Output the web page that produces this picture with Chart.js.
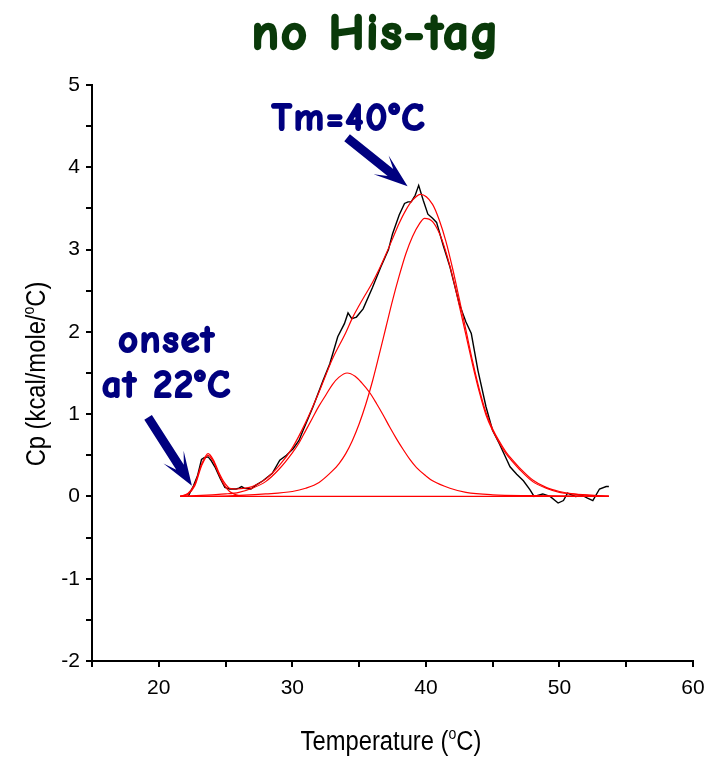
<!DOCTYPE html>
<html>
<head>
<meta charset="utf-8">
<script src="https://cdn.jsdelivr.net/npm/chart.js@4"></script>
<style>
  html, body { margin: 0; padding: 0; background: #fff; }
  #wrap { width: 717px; height: 757px; }
</style>
</head>
<body>
<div id="wrap"><canvas id="dsc" width="717" height="757"></canvas></div>
<script>
// measured DSC trace (black)
const expT = [22.2, 22.6, 22.9, 23.2, 23.4, 23.7, 23.9, 24.2, 24.6, 24.95, 25.3, 25.8, 26.0, 26.2, 26.4, 26.9,
  27.3, 27.8, 28.5, 29.06, 29.56, 30.06, 30.5, 30.8, 31.55, 32.3, 32.8, 33.4, 33.9, 34.17, 34.45, 34.8,
  35.3, 36.0, 36.6, 37.2, 37.5, 38.0, 38.4, 38.66, 38.9, 39.2, 39.46, 39.8, 40.15, 40.5, 40.8, 41.3,
  41.8, 42.5, 43.0, 43.4, 43.9, 44.5, 45.0, 45.5, 45.9, 46.3, 46.8, 47.3, 47.8, 48.1, 48.75, 49.3,
  49.9, 50.3, 50.6, 51.2, 51.75, 52.1, 52.5, 53.0, 53.5, 53.7];
const expCp = [0.0, 0.13, 0.25, 0.45, 0.47, 0.48, 0.44, 0.36, 0.22, 0.11, 0.09, 0.09, 0.1, 0.12, 0.1, 0.09,
  0.14, 0.19, 0.28, 0.44, 0.5, 0.58, 0.68, 0.8, 1.09, 1.41, 1.61, 1.94, 2.1, 2.23, 2.16, 2.18,
  2.28, 2.54, 2.78, 3.0, 3.19, 3.42, 3.56, 3.58, 3.58, 3.66, 3.78, 3.6, 3.43, 3.38, 3.33, 3.05,
  2.79, 2.34, 2.12, 1.98, 1.53, 1.09, 0.8, 0.64, 0.5, 0.36, 0.27, 0.19, 0.08, 0.0, 0.03, 0.0,
  -0.08, -0.05, 0.04, 0.0, 0.01, -0.02, -0.05, 0.09, 0.12, 0.12];

// total fit (red)
const fitT = [21.6, 22.2, 22.7, 23.2, 23.7, 24.1, 24.5, 24.9, 25.3, 25.8, 26.5, 27, 28, 29, 30, 31, 32, 33,
  34, 34.5, 35, 35.5, 36, 36.5, 37, 37.5, 38, 38.5, 39, 39.6, 40.5, 41, 41.5, 42, 42.5, 43, 43.5, 44,
  44.5, 45, 45.5, 46, 46.5, 47, 48, 49, 50, 51, 52, 53.7];
const fitCp = [0, 0.04, 0.15, 0.39, 0.52, 0.44, 0.29, 0.17, 0.1, 0.09, 0.1, 0.12, 0.21, 0.37, 0.59, 0.9, 1.27, 1.67,
  1.99, 2.17, 2.32, 2.46, 2.6, 2.76, 2.94, 3.13, 3.32, 3.48, 3.6, 3.67, 3.55, 3.36, 3.1, 2.77, 2.4, 2.02, 1.64, 1.3,
  1.02, 0.82, 0.67, 0.54, 0.44, 0.35, 0.2, 0.11, 0.06, 0.03, 0.015, 0.005];

// component peaks (red)
const peak1T = [21.6, 22.2, 22.7, 23.2, 23.7, 24.1, 24.5, 24.9, 25.3, 25.8, 26.5];
const peak1Cp = [0, 0.03, 0.13, 0.37, 0.5, 0.42, 0.27, 0.14, 0.06, 0.02, 0];

const peak2T = [21.6, 24, 25, 26, 27, 28, 29, 30, 30.5, 31, 31.5, 32, 32.5, 33, 33.5, 34.1, 34.7, 35.2, 35.8,
  36.3, 36.8, 37.3, 37.8, 38.3, 38.8, 39.3, 40, 40.5, 41.8, 43, 45, 48, 53.7];
const peak2Cp = [0, 0.02, 0.03, 0.05, 0.1, 0.18, 0.33, 0.53, 0.65, 0.8, 0.95, 1.1, 1.23, 1.36, 1.45, 1.5, 1.46, 1.38, 1.26,
  1.13, 0.99, 0.84, 0.7, 0.57, 0.45, 0.35, 0.25, 0.19, 0.1, 0.05, 0.02, 0.01, 0];

const peak3T = [21.6, 25, 28, 30, 31, 32, 33, 33.5, 34, 34.5, 35, 35.5, 36, 36.5, 37, 37.5, 38, 38.5, 39, 39.5, 39.9,
  40.5, 41, 41.5, 42, 42.5, 43, 43.5, 44, 44.5, 45, 45.5, 46, 46.5, 47, 48, 49, 50, 51, 53.7];
const peak3Cp = [0, 0.005, 0.03, 0.06, 0.1, 0.17, 0.31, 0.4, 0.52, 0.68, 0.88, 1.12, 1.4, 1.72, 2.05, 2.38, 2.68, 2.95, 3.16, 3.31, 3.38,
  3.34, 3.2, 2.97, 2.67, 2.32, 1.96, 1.6, 1.27, 0.99, 0.8, 0.65, 0.52, 0.42, 0.33, 0.18, 0.1, 0.05, 0.03, 0];

const baseT = [21.6, 53.7];
const baseCp = [0, 0];

// axis ranges
const xMin = 15, xMax = 60, xStep = 5;
const yMin = -2, yMax = 5, yStep = 0.5;

// annotation arrows in data units: [from, to]
const tmArrow = [[34.1, 4.36], [38.63, 3.77]];
const onsetArrow = [[19.2, 0.96], [22.48, 0.13]];

const NAVY = "#00007f";
const TEXT_FONT = '"Liberation Sans", Arial, sans-serif';
const FUN_FONT = '"Comic Sans MS", "Comic Neue", "DejaVu Sans", sans-serif';

function pts(xs, ys) {
  return xs.map((x, i) => ({ x, y: ys[i] }));
}

function redLine(xs, ys, order) {
  return {
    data: pts(xs, ys),
    borderColor: "#ff0000",
    borderWidth: 1.2,
    pointRadius: 0,
    cubicInterpolationMode: "monotone",
    fill: false,
    order,
  };
}

function drawArrow(ctx, x0, y0, x1, y1) {
  const ang = Math.atan2(y1 - y0, x1 - x0);
  const len = Math.hypot(x1 - x0, y1 - y0);
  const w = 4.5, hl = 34, hw = 12, back = 12;
  ctx.save();
  ctx.translate(x0, y0);
  ctx.rotate(ang);
  ctx.beginPath();
  ctx.moveTo(0, -w);
  ctx.lineTo(len - hl + back, -w);
  ctx.lineTo(len - hl, -hw);
  ctx.lineTo(len, 0);
  ctx.lineTo(len - hl, hw);
  ctx.lineTo(len - hl + back, w);
  ctx.lineTo(0, w);
  ctx.closePath();
  ctx.fillStyle = NAVY;
  ctx.fill();
  ctx.restore();
}

// comic text, thickened with a thin stroke
function boldText(ctx, text, x, y, size, color, weight) {
  ctx.font = `bold ${size}px ${FUN_FONT}`;
  ctx.letterSpacing = "2px";
  ctx.textAlign = "center";
  ctx.textBaseline = "alphabetic";
  ctx.fillStyle = color;
  ctx.strokeStyle = color;
  ctx.lineWidth = weight;
  ctx.lineJoin = "round";
  ctx.strokeText(text, x, y);
  ctx.fillText(text, x, y);
  ctx.letterSpacing = "0px";
}

// text with a small raised "o" for the degree sign, squeezed a little horizontally
function drawSupText(ctx, parts, cx, cy, size, squeeze) {
  const big = `${size}px ${TEXT_FONT}`;
  const small = `${Math.round(size * 0.6)}px ${TEXT_FONT}`;
  let total = 0;
  parts.forEach((p) => {
    ctx.font = p.sup ? small : big;
    total += ctx.measureText(p.t).width;
  });
  ctx.save();
  ctx.translate(cx, cy);
  ctx.scale(squeeze, 1);
  let x = -total / 2;
  ctx.textAlign = "left";
  ctx.textBaseline = "alphabetic";
  parts.forEach((p) => {
    ctx.font = p.sup ? small : big;
    ctx.fillText(p.t, x, p.sup ? -size * 0.42 : 0);
    x += ctx.measureText(p.t).width;
  });
  ctx.restore();
}

const decor = {
  id: "decor",
  afterDraw(chart) {
    const ctx = chart.ctx;
    const sx = chart.scales.x, sy = chart.scales.y;
    ctx.save();

    boldText(ctx, "no His-tag", 376, 49, 50, "#0a3a0a", 2.4);

    boldText(ctx, "Tm=40\u00B0C", 349, 130, 38, NAVY, 2);
    boldText(ctx, "onset", 167, 352, 38, NAVY, 2);
    boldText(ctx, "at 22\u00B0C", 167, 397, 38, NAVY, 2);

    [tmArrow, onsetArrow].forEach(([a, b]) => {
      drawArrow(ctx, sx.getPixelForValue(a[0]), sy.getPixelForValue(a[1]),
        sx.getPixelForValue(b[0]), sy.getPixelForValue(b[1]));
    });

    // axis titles
    ctx.fillStyle = "#000";
    drawSupText(ctx, [{ t: "Temperature (" }, { t: "o", sup: true }, { t: "C)" }], 391, 750, 27, 0.88);

    ctx.save();
    ctx.translate(45, 374);
    ctx.rotate(-Math.PI / 2);
    drawSupText(ctx, [{ t: "Cp (kcal/mole/" }, { t: "o", sup: true }, { t: "C)" }], 0, 0, 27, 0.88);
    ctx.restore();

    ctx.restore();
  },
};

const axisGrid = {
  drawOnChartArea: false,
  drawTicks: true,
  tickLength: 6,
  color: "#000",
  lineWidth: 2,
};

new Chart(document.getElementById("dsc").getContext("2d"), {
  type: "line",
  data: {
    datasets: [
      redLine(fitT, fitCp, 1),
      redLine(peak1T, peak1Cp, 2),
      redLine(peak2T, peak2Cp, 3),
      redLine(peak3T, peak3Cp, 4),
      redLine(baseT, baseCp, 5),
      {
        data: pts(expT, expCp),
        borderColor: "#000",
        borderWidth: 1.4,
        pointRadius: 0,
        tension: 0,
        fill: false,
        order: 6,
      },
    ],
  },
  options: {
    responsive: false,
    animation: false,
    devicePixelRatio: 1,
    layout: { padding: { left: 0, top: 85, right: 24, bottom: 56 } },
    plugins: {
      legend: { display: false },
      tooltip: { enabled: false },
    },
    scales: {
      x: {
        type: "linear",
        min: xMin,
        max: xMax,
        afterFit: (s) => { s.height = 40; },
        ticks: {
          stepSize: xStep,
          autoSkip: false,
          maxRotation: 0,
          padding: 9,
          color: "#000",
          font: { family: TEXT_FONT, size: 21 },
          callback: (v) => (v % 10 === 0 ? String(v) : ""),
        },
        grid: axisGrid,
        border: { display: true, color: "#000", width: 2 },
      },
      y: {
        min: yMin,
        max: yMax,
        afterFit: (s) => { s.width = 92; },
        ticks: {
          stepSize: yStep,
          autoSkip: false,
          padding: 6,
          color: "#000",
          font: { family: TEXT_FONT, size: 21 },
          callback: (v) => (Number.isInteger(v) ? String(v) : ""),
        },
        grid: axisGrid,
        border: { display: true, color: "#000", width: 2 },
      },
    },
  },
  plugins: [decor],
});
</script>
</body>
</html>
